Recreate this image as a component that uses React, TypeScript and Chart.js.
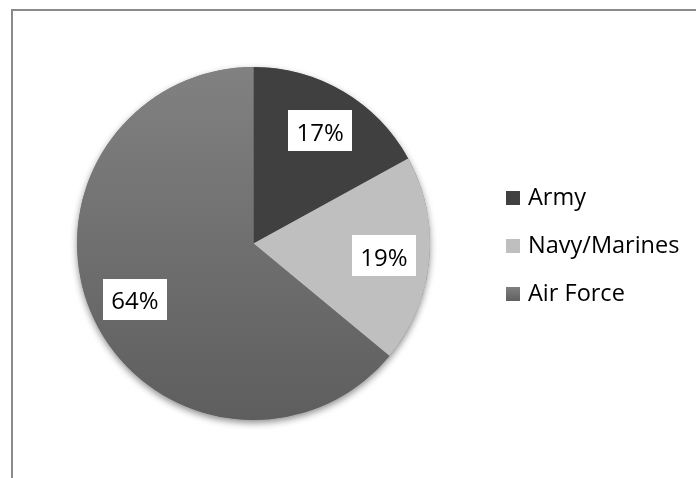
import React, { useEffect, useRef } from "react";
import { Chart, registerables } from "chart.js";

Chart.register(...registerables);

const categories = ["Army", "Navy/Marines", "Air Force"];
const shares = [17, 19, 64];
const percentLabels = ["17%", "19%", "64%"];
const sliceColors = ["#404040", "#BFBFBF", "#7F7F7F"];

const FONT = "'Open Sans', Lato, sans-serif";

function airForceGradient(chart: any) {
  const area = chart.chartArea;
  if (!area) return "#707070";
  const g = chart.ctx.createLinearGradient(0, area.top, 0, area.bottom);
  g.addColorStop(0, "#818181");
  g.addColorStop(1, "#5E5E5E");
  return g;
}

const shadowPlugin = {
  id: "pieShadow",
  beforeDatasetsDraw(chart: any) {
    const meta = chart.getDatasetMeta(0);
    const arc = meta.data[0];
    if (!arc) return;
    const { x, y, outerRadius } = arc.getProps(["x", "y", "outerRadius"], true);
    const ctx = chart.ctx;
    ctx.save();
    ctx.shadowColor = "rgba(0,0,0,0.45)";
    ctx.shadowBlur = 7;
    ctx.shadowOffsetX = 0;
    ctx.shadowOffsetY = 3;
    ctx.beginPath();
    ctx.arc(x, y, outerRadius, 0, Math.PI * 2);
    ctx.fillStyle = "#707070";
    ctx.fill();
    ctx.restore();
  },
};

const labelPlugin = {
  id: "boxLabels",
  afterDatasetsDraw(chart: any) {
    const meta = chart.getDatasetMeta(0);
    const ctx = chart.ctx;
    ctx.save();
    ctx.font = `24px ${FONT}`;
    ctx.textAlign = "center";
    ctx.textBaseline = "alphabetic";
    meta.data.forEach((arc: any, i: number) => {
      const { x, y, startAngle, endAngle, outerRadius } = arc.getProps(
        ["x", "y", "startAngle", "endAngle", "outerRadius"],
        true
      );
      const mid = (startAngle + endAngle) / 2;
      const r = outerRadius * 0.742;
      const cx = x + Math.cos(mid) * r;
      const cy = y + Math.sin(mid) * r;
      const text = percentLabels[i];
      const w = ctx.measureText(text).width + 17;
      const h = 41;
      ctx.fillStyle = "#FFFFFF";
      ctx.fillRect(Math.round(cx - w / 2), Math.round(cy - h / 2), Math.round(w), h);
      ctx.fillStyle = "#000000";
      ctx.fillText(text, cx, cy + 10);
    });
    ctx.restore();
  },
};

const legendPlugin = {
  id: "sideLegend",
  afterDraw(chart: any) {
    const ctx = chart.ctx;
    const labels = chart.data.labels as string[];
    ctx.save();
    ctx.font = `23.5px ${FONT}`;
    ctx.textBaseline = "alphabetic";
    ctx.textAlign = "left";
    labels.forEach((lab, i) => {
      const base = 205 + i * 48;
      const sx = 506;
      const sy = base - 14;
      if (i === 2) {
        const g = ctx.createLinearGradient(0, sy, 0, sy + 14);
        g.addColorStop(0, "#808080");
        g.addColorStop(1, "#5F5F5F");
        ctx.fillStyle = g;
      } else {
        ctx.fillStyle = sliceColors[i];
      }
      ctx.fillRect(sx, sy, 14, 14);
      ctx.fillStyle = "#000000";
      ctx.fillText(lab, 528, base);
    });
    ctx.restore();
  },
};

export default function App() {
  const ref = useRef<HTMLCanvasElement | null>(null);

  useEffect(() => {
    document.body.style.margin = "0";
    if (!ref.current) return;
    const chart = new Chart(ref.current, {
      type: "pie",
      data: {
        labels: categories,
        datasets: [
          {
            data: shares,
            backgroundColor: (c: any) =>
              c.dataIndex === 2 ? airForceGradient(c.chart) : sliceColors[c.dataIndex],
            borderWidth: 0,
          },
        ],
      },
      options: {
        animation: false,
        responsive: false,
        maintainAspectRatio: false,
        layout: { padding: { left: 77, top: 67, right: 266, bottom: 58 } },
        plugins: {
          legend: { display: false },
          tooltip: { enabled: false },
        },
      },
      plugins: [shadowPlugin, labelPlugin, legendPlugin],
    });
    return () => chart.destroy();
  }, []);

  return (
    <div style={{ position: "relative", width: 696, height: 478, background: "#fff", overflow: "hidden" }}>
      <div
        style={{
          position: "absolute",
          left: 11,
          top: 9,
          width: 700,
          height: 467,
          borderLeft: "2px solid #8a8a8a",
          borderTop: "2px solid #8a8a8a",
          borderBottom: "1px solid #dcdcdc",
        }}
      />
      <canvas ref={ref} width={696} height={478} style={{ position: "absolute", left: 0, top: 0 }} />
    </div>
  );
}
